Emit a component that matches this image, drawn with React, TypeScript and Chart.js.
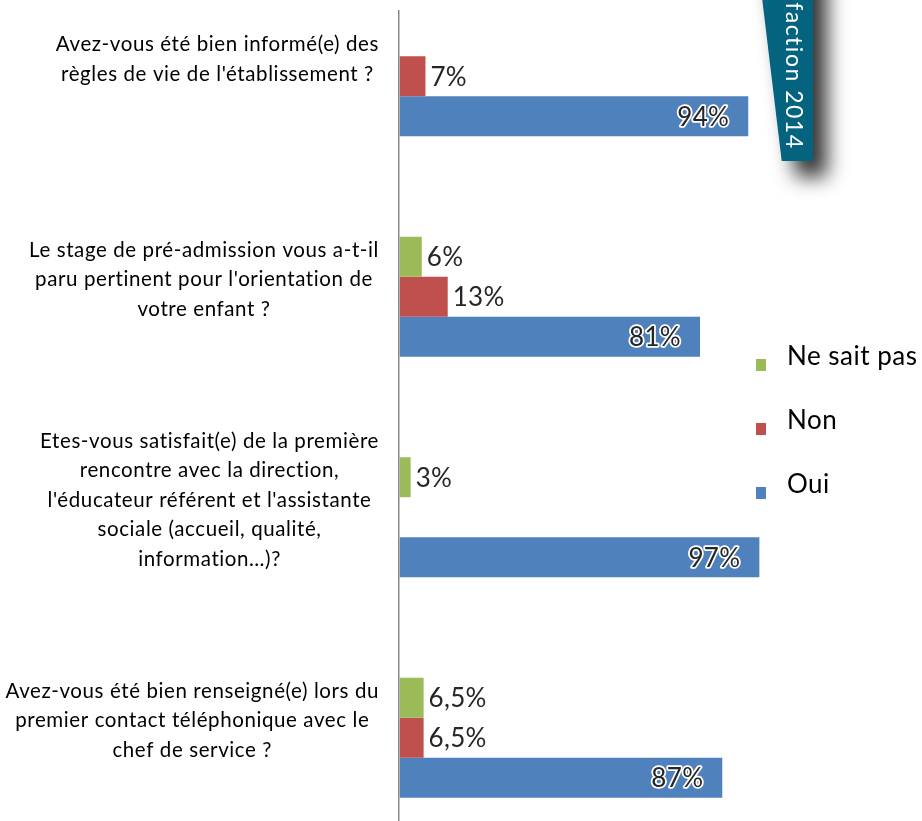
import React, { useEffect, useRef } from "react";
import { Chart, registerables } from "chart.js";
Chart.register(...registerables);

const categories: string[][] = [
  ["Avez-vous été bien informé(e) des", "règles de vie de l'établissement ?"],
  ["Le stage de pré-admission vous a-t-il", "paru pertinent pour l'orientation de", "votre enfant ?"],
  [
    "Etes-vous satisfait(e) de la première",
    "rencontre avec la direction,",
    "l'éducateur référent et l'assistante",
    "sociale (accueil, qualité,",
    "information…)?",
  ],
  ["Avez-vous été bien renseigné(e) lors du", "premier contact téléphonique avec le", "chef de service ?"],
];
const neSaitPas = [0, 6, 3, 6.5];
const non = [7, 13, 0, 6.5];
const oui = [94, 81, 97, 87];
const seriesNames = ["Ne sait pas", "Non", "Oui"];
const seriesColors = ["#9BBB59", "#C0504D", "#4F81BD"];
const bannerText = "Satisfaction 2014";

const OFF = 40; // canvas is shifted up by this many px
const W = 922;
const H = 900;

const fmt = (v: number) => String(v).replace(".", ",") + "%";

const decorPlugin = {
  id: "decor",
  afterDatasetsDraw(chart: any) {
    const ctx: any = chart.ctx;
    const area = chart.chartArea;
    const yScale = chart.scales.y;

    // axis line
    ctx.save();
    ctx.strokeStyle = "#8a8a8a";
    ctx.lineWidth = 1.5;
    ctx.beginPath();
    ctx.moveTo(area.left - 0.75, 10 + OFF);
    ctx.lineTo(area.left - 0.75, H);
    ctx.stroke();
    ctx.restore();

    // data labels
    chart.data.datasets.forEach((ds: any, d: number) => {
      const meta = chart.getDatasetMeta(d);
      meta.data.forEach((el: any, i: number) => {
        const v = ds.data[i];
        if (!v) return;
        ctx.save();
        ctx.font = "26px Lato";
        ctx.letterSpacing = "0.3px";
        ctx.textBaseline = "middle";
        if (d < 2) {
          ctx.textAlign = "left";
          ctx.fillStyle = "#262626";
          ctx.fillText(fmt(v), el.x + 5, el.y + 1);
        } else {
          ctx.textAlign = "right";
          ctx.lineJoin = "round";
          ctx.strokeStyle = "#ffffff";
          ctx.lineWidth = 3.5;
          ctx.strokeText(fmt(v), el.x - 19, el.y + 1);
          ctx.fillStyle = "#262626";
          ctx.fillText(fmt(v), el.x - 19, el.y + 1);
        }
        ctx.restore();
      });
    });

    // category labels
    ctx.save();
    ctx.font = "20.5px Lato";
    ctx.letterSpacing = "0.6px";
    ctx.fillStyle = "#000000";
    ctx.textBaseline = "middle";
    ctx.textAlign = "center";
    const lineH = 29.5;
    const right = area.left - 20.5;
    (chart.data.labels as string[][]).forEach((lines, i) => {
      const yc = yScale.getPixelForValue(i) - 17;
      const maxW = Math.max(...lines.map((l) => ctx.measureText(l).width));
      const cx = right - maxW / 2;
      const y0 = yc - ((lines.length - 1) / 2) * lineH;
      lines.forEach((l, k) => ctx.fillText(l, cx, y0 + k * lineH));
    });
    ctx.restore();

    // legend
    ctx.save();
    ctx.font = "26px Lato";
    ctx.letterSpacing = "0.5px";
    ctx.textBaseline = "middle";
    ctx.textAlign = "left";
    chart.data.datasets.forEach((ds: any, d: number) => {
      const cy = 357 + d * 64 + OFF;
      ctx.fillStyle = ds.backgroundColor;
      ctx.fillRect(756, cy + 2, 10, 12);
      ctx.fillStyle = "#000000";
      ctx.fillText(ds.label, 787, cy);
    });
    ctx.restore();

    // banner
    ctx.save();
    ctx.translate(0, OFF);
    ctx.beginPath();
    ctx.moveTo(757.5, -40);
    ctx.lineTo(813, -40);
    ctx.lineTo(813, 161);
    ctx.lineTo(781.7, 161);
    ctx.closePath();
    ctx.shadowColor = "rgba(0,0,0,0.8)";
    ctx.shadowBlur = 20;
    ctx.shadowOffsetX = 14;
    ctx.shadowOffsetY = 16;
    ctx.fillStyle = "#04637F";
    ctx.fill();
    ctx.shadowColor = "transparent";
    ctx.translate(793.5, 149.5);
    ctx.rotate(Math.PI / 2);
    ctx.font = "23px Lato";
    ctx.letterSpacing = "1.5px";
    ctx.fillStyle = "#ffffff";
    ctx.textAlign = "right";
    ctx.textBaseline = "middle";
    ctx.fillText(bannerText, 0, 0);
    ctx.restore();
  },
};

export default function App() {
  const ref = useRef<HTMLCanvasElement | null>(null);
  useEffect(() => {
    if (!ref.current) return;
    const chart = new Chart(ref.current, {
      type: "bar",
      data: {
        labels: categories as any,
        datasets: [neSaitPas, non, oui].map((data, d) => ({
          label: seriesNames[d],
          data,
          backgroundColor: seriesColors[d],
          borderWidth: 0,
          categoryPercentage: 0.545,
          barPercentage: 1.0,
        })),
      },
      options: {
        indexAxis: "y",
        responsive: false,
        maintainAspectRatio: false,
        animation: false,
        devicePixelRatio: 1,
        layout: { padding: { left: 399.5, right: W - 770.5, top: 6, bottom: H - 888 } },
        scales: {
          x: { display: false, min: 0, max: 100 },
          y: { display: false },
        },
        plugins: { legend: { display: false }, tooltip: { enabled: false } },
      },
      plugins: [decorPlugin],
    });
    return () => chart.destroy();
  }, []);
  return (
    <div
      style={{
        position: "fixed",
        left: 0,
        top: 0,
        width: W,
        height: 821,
        overflow: "hidden",
        background: "#fff",
      }}
    >
      <canvas
        ref={ref}
        width={W}
        height={H}
        style={{ position: "absolute", left: 0, top: -OFF, width: W, height: H }}
      />
    </div>
  );
}
